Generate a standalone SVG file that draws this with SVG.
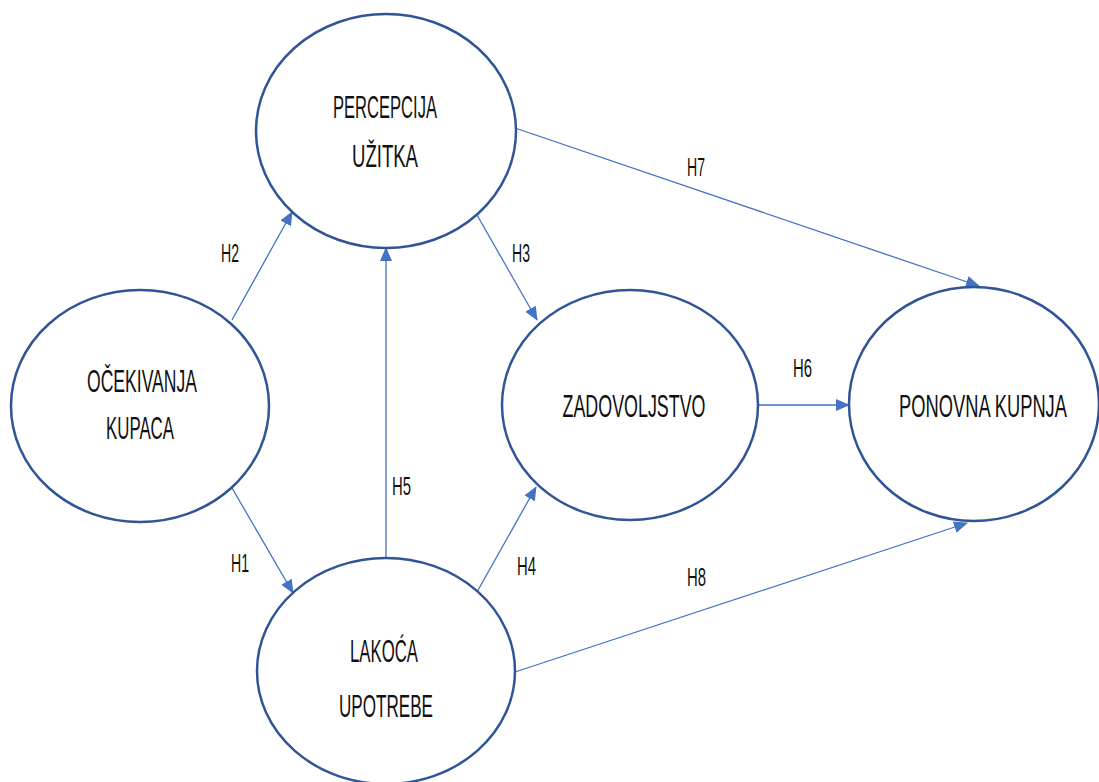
<svg xmlns="http://www.w3.org/2000/svg" width="1099" height="782" viewBox="0 0 1099 782">
<style>
.node{fill:#fff;stroke:#2F5597;stroke-width:2.5}
.t{font-family:"Liberation Sans",Arial,sans-serif;font-size:32px;fill:#111;text-anchor:middle}
.l{font-family:"Liberation Sans",Arial,sans-serif;font-size:25px;fill:#111}
.c{stroke:#4472C4;stroke-width:1.3;fill:none;marker-end:url(#ah)}
</style>
<defs>
<marker id="ah" markerUnits="userSpaceOnUse" markerWidth="14" markerHeight="12" refX="13" refY="6" orient="auto">
<path d="M0,0 L14,6 L0,12 z" fill="#4472C4"/>
</marker>
</defs>
<rect width="1099" height="782" fill="#fff"/>
<g id="connectors">
<line class="c" x1="232" y1="320" x2="292" y2="212"/>
<line class="c" x1="477" y1="215" x2="537" y2="320"/>
<line class="c" x1="386" y1="560" x2="386" y2="248"/>
<line class="c" x1="232" y1="488" x2="293" y2="593"/>
<line class="c" x1="477" y1="592" x2="536" y2="487"/>
<line class="c" x1="515" y1="128" x2="979" y2="286"/>
<line class="c" x1="758" y1="405" x2="849" y2="405"/>
<line class="c" x1="515" y1="672" x2="967" y2="523"/>
<text class="l" x="221" y="262" textLength="18" lengthAdjust="spacingAndGlyphs">H2</text>
<text class="l" x="512" y="262" textLength="18" lengthAdjust="spacingAndGlyphs">H3</text>
<text class="l" x="392" y="495" textLength="19" lengthAdjust="spacingAndGlyphs">H5</text>
<text class="l" x="231" y="572" textLength="18" lengthAdjust="spacingAndGlyphs">H1</text>
<text class="l" x="517" y="575" textLength="19" lengthAdjust="spacingAndGlyphs">H4</text>
<text class="l" x="687" y="176" textLength="18" lengthAdjust="spacingAndGlyphs">H7</text>
<text class="l" x="793" y="377" textLength="19" lengthAdjust="spacingAndGlyphs">H6</text>
<text class="l" x="687" y="586" textLength="19" lengthAdjust="spacingAndGlyphs">H8</text>
</g>
<g id="percepcija">
<ellipse class="node" cx="386" cy="131" rx="130" ry="117"/>
<text class="t" x="385" y="118" textLength="104" lengthAdjust="spacingAndGlyphs">PERCEPCIJA</text>
<text class="t" x="385" y="167" textLength="66" lengthAdjust="spacingAndGlyphs">UŽITKA</text>
</g>
<g id="ocekivanja">
<ellipse class="node" cx="140" cy="406" rx="129" ry="116"/>
<text class="t" x="142" y="392" textLength="110" lengthAdjust="spacingAndGlyphs">OČEKIVANJA</text>
<text class="t" x="140" y="439" textLength="68" lengthAdjust="spacingAndGlyphs">KUPACA</text>
</g>
<g id="zadovoljstvo">
<ellipse class="node" cx="630" cy="405" rx="128" ry="115"/>
<text class="t" x="634" y="417" textLength="143" lengthAdjust="spacingAndGlyphs">ZADOVOLJSTVO</text>
</g>
<g id="ponovna">
<ellipse class="node" cx="974" cy="404" rx="125" ry="117"/>
<text class="t" x="983" y="417" textLength="168" lengthAdjust="spacingAndGlyphs">PONOVNA KUPNJA</text>
</g>
<g id="lakoca">
<ellipse class="node" cx="386" cy="671" rx="129" ry="113"/>
<text class="t" x="384" y="662" textLength="68" lengthAdjust="spacingAndGlyphs">LAKOĆA</text>
<text class="t" x="386" y="717" textLength="94" lengthAdjust="spacingAndGlyphs">UPOTREBE</text>
</g>
</svg>
